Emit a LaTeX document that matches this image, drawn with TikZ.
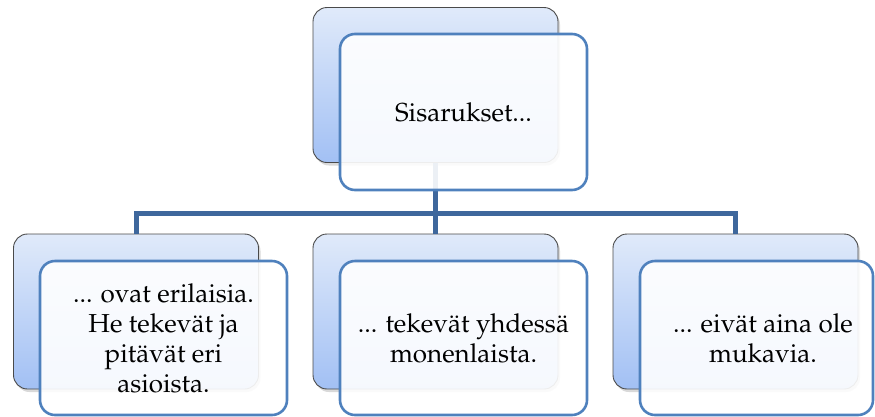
\documentclass[tikz,border=0pt]{standalone}
\usepackage[T1]{fontenc}
\usepackage{mathpazo}
\usetikzlibrary{shadows}

\definecolor{cardtop}{HTML}{E0EAFA}
\definecolor{cardbottom}{HTML}{A2C0F4}
\definecolor{cardedge}{HTML}{4A4A4A}
\definecolor{frameblue}{HTML}{4F81BD}
\definecolor{linkblue}{HTML}{3E679C}

\tikzset{
  backcard/.style={rectangle, rounded corners=14pt, draw=cardedge, line width=0.9pt,
    top color=cardtop, bottom color=cardbottom,
    minimum width=245pt, minimum height=155pt, inner sep=0pt,
    drop shadow={shadow xshift=2pt, shadow yshift=-3pt, opacity=0.3}},
  frontcard/.style={rectangle, rounded corners=15pt, draw=frameblue, line width=2.6pt,
    fill=white, fill opacity=0.9, text opacity=1,
    minimum height=154pt, inner sep=0pt, align=center,
    font=\fontsize{26}{30}\selectfont},
  link/.style={draw=linkblue, line width=5pt}
}

\begin{document}
\begin{tikzpicture}[x=1pt,y=-1pt]
\useasboundingbox (0,0) rectangle (875,416);
\clip (0,0) rectangle (875,416);

% rear cards
\node[backcard] (topback)   at (435.5,85)  {};
\node[backcard] (leftback)  at (136,311.5) {};
\node[backcard] (midback)   at (435.5,311.5) {};
\node[backcard] (rightback) at (735.5,311.5) {};

% tree connectors
\coordinate (bus) at (435.5,213);
\draw[link] (topback.south) -- (bus);
\draw[link] (bus) -| (leftback.north);
\draw[link] (bus) -| (rightback.north);
\draw[link] (bus) -- (midback.north);

% front cards with text
\node[frontcard, minimum width=247pt, minimum height=156pt] (topfront) at (463.5,112) {Sisarukset...};
\node[frontcard, minimum width=247pt] (leftfront) at (163.5,338)
  {... ovat erilaisia.\\He tekev\"at ja\\pit\"av\"at eri\\asioista.};
\node[frontcard, minimum width=247pt] (midfront) at (463.5,338)
  {... tekev\"at yhdess\"a\\monenlaista.};
\node[frontcard, minimum width=233pt] (rightfront) at (756.5,338)
  {\hspace*{13pt}... eiv\"at aina ole\\\hspace*{13pt}mukavia.};
\end{tikzpicture}
\end{document}
